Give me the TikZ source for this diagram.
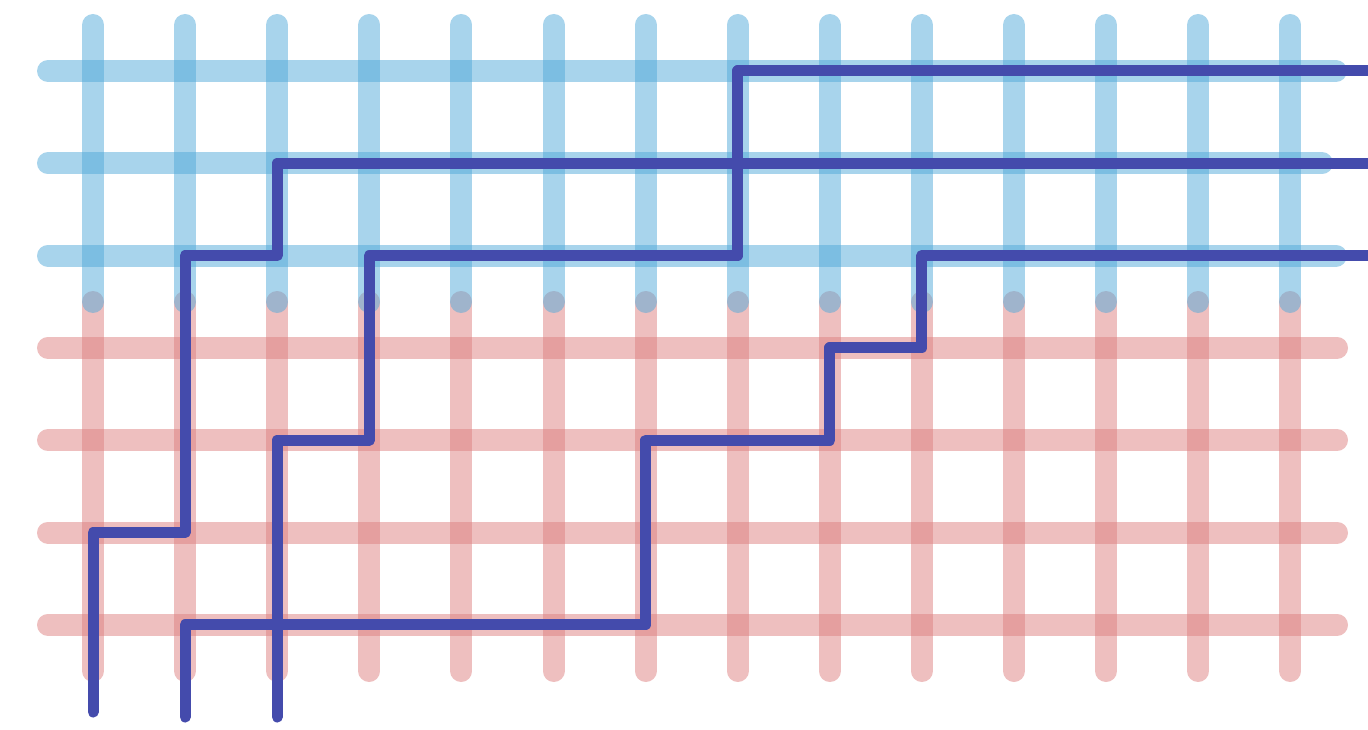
\documentclass[tikz,border=0pt]{standalone}
\usepackage{tikz}
\definecolor{gridblue}{RGB}{81,169,217}
\definecolor{gridred}{RGB}{221,127,127}
\definecolor{pathblue}{RGB}{68,75,172}
\tikzset{
  bluebar/.style={draw=gridblue, draw opacity=0.5, line width=22pt, line cap=round},
  redbar/.style={draw=gridred, draw opacity=0.5, line width=22pt, line cap=round},
  route/.style={draw=pathblue, line width=11pt, line cap=round, line join=round}
}
\begin{document}
\begin{tikzpicture}[x={(1pt,0)}, y={(0,-1pt)}]
\useasboundingbox (0,0) rectangle (1368,730);
\clip (0,0) rectangle (1368,730);
% red grid (below)
\foreach \i in {0,...,13}{
  \path[redbar] ({93+92.1*\i},302) -- ({93+92.1*\i},671);
}
\foreach \j in {3,4,5,6}{
  \path[redbar] (48,{71+92.3*\j}) -- (1337,{71+92.3*\j});
}
% blue grid (above)
\foreach \i in {0,...,13}{
  \path[bluebar] ({93+92.1*\i},25) -- ({93+92.1*\i},302);
}
\path[bluebar] (48,71) -- (1336,71);
\path[bluebar] (48,163.3) -- (1322,163.3);
\path[bluebar] (48,255.6) -- (1336,255.6);
% routes
\path[route] (93,712) -- (93,532.5) -- (185.1,532.5) -- (185.1,255.6) -- (277.2,255.6) -- (277.2,163.3) -- (1390,163.3);
\path[route] (185.1,717) -- (185.1,624.8) -- (645.6,624.8) -- (645.6,440.2) -- (829.8,440.2) -- (829.8,347.9) -- (921.9,347.9) -- (921.9,255.6) -- (1390,255.6);
\path[route] (277.2,717) -- (277.2,440.2) -- (369.3,440.2) -- (369.3,255.6) -- (737.7,255.6) -- (737.7,71) -- (1390,71);
\end{tikzpicture}
\end{document}
